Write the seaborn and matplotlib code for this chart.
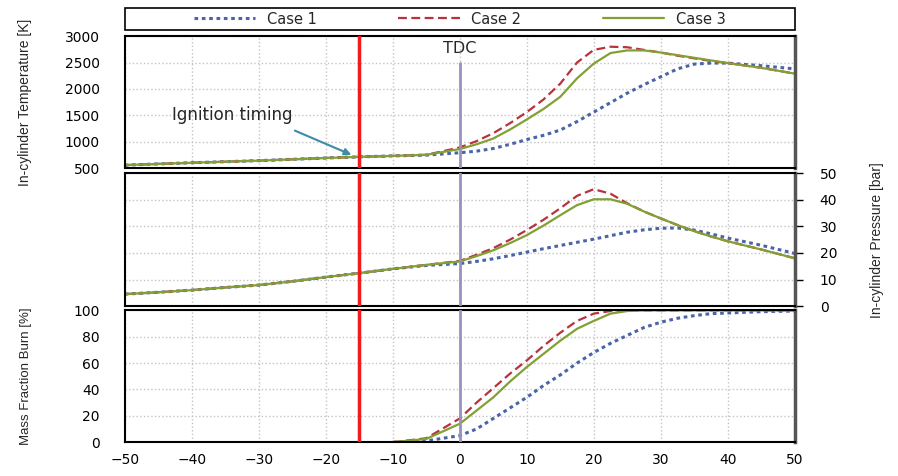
import numpy as np
import pandas as pd
import matplotlib
matplotlib.use("Agg")
import matplotlib.pyplot as plt
import seaborn as sns

# crank angle [deg]
crank = [-50, -45, -40, -35, -30, -25, -20, -15, -10, -5, 0, 2.5, 5, 7.5, 10, 12.5,
         15, 17.5, 20, 22.5, 25, 27.5, 30, 32.5, 35, 37.5, 40, 45, 50]
cases = ["Case 1", "Case 2", "Case 3"]

# in-cylinder temperature [K]
temp_case1 = [555, 578, 600, 620, 640, 665, 690, 712, 730, 745, 790, 820, 870, 950, 1040, 1120,
              1220, 1380, 1560, 1740, 1920, 2080, 2230, 2380, 2470, 2490, 2490, 2440, 2380]
temp_case2 = [555, 578, 600, 620, 640, 665, 690, 712, 730, 750, 890, 1010, 1160, 1350, 1560, 1800,
              2100, 2500, 2740, 2800, 2790, 2740, 2690, 2630, 2580, 2530, 2490, 2400, 2290]
temp_case3 = [555, 578, 600, 620, 640, 665, 690, 712, 730, 750, 860, 950, 1060, 1230, 1420, 1620,
              1850, 2200, 2480, 2680, 2730, 2730, 2690, 2640, 2590, 2540, 2490, 2400, 2290]

# in-cylinder pressure [bar]
pres_case1 = [4.5, 5.2, 6.0, 7.0, 7.9, 9.3, 10.9, 12.4, 14.0, 15.3, 16.0, 16.8, 17.8, 19.0, 20.3, 21.6,
              22.8, 24.0, 25.2, 26.5, 27.8, 28.7, 29.3, 29.4, 28.6, 27.2, 25.6, 22.9, 19.8]
pres_case2 = [4.5, 5.2, 6.0, 7.0, 7.9, 9.3, 10.9, 12.4, 14.0, 15.5, 17.0, 19.3, 21.8, 25.0, 28.6, 32.5,
              36.8, 41.5, 44.0, 42.3, 38.7, 35.6, 33.0, 30.5, 28.2, 26.2, 24.4, 21.3, 18.0]
pres_case3 = [4.5, 5.2, 6.0, 7.0, 7.9, 9.3, 10.9, 12.4, 14.0, 15.5, 16.8, 18.8, 21.0, 23.7, 26.7, 30.3,
              34.2, 38.0, 40.2, 40.2, 38.5, 35.6, 33.0, 30.5, 28.2, 26.2, 24.4, 21.3, 18.0]

# mass fraction burn [%]
mfb_case1 = [np.nan] * 8 + [0, 1, 5, 10, 18, 26, 34, 43,
                            51, 60, 68, 75, 81, 87, 91, 94, 96, 97.5, 98, 99, 99.5]
mfb_case2 = [np.nan] * 8 + [0, 3, 18, 30, 41, 52, 62, 73,
                            83, 92, 97.5, 99.5, 100, 100, 100, 100, 100, 100, 100, 100, 100]
mfb_case3 = [np.nan] * 8 + [0, 2.5, 14, 24, 34, 46, 57, 67,
                            77, 86, 92, 97.5, 99.5, 100, 100, 100, 100, 100, 100, 100, 100]

ignition = -15
tdc = 0

df = pd.DataFrame({
    "crank": crank * 3,
    "case": np.repeat(cases, len(crank)),
    "temp": temp_case1 + temp_case2 + temp_case3,
    "pres": pres_case1 + pres_case2 + pres_case3,
    "mfb": mfb_case1 + mfb_case2 + mfb_case3,
})

sns.set_style("white")
plt.rcParams["font.family"] = ["DejaVu Sans"]
narrow = ["Liberation Sans Narrow", "Liberation Sans", "DejaVu Sans"]

styles = {
    "Case 1": dict(color="#4a64a8", linestyle=(0, (1.2, 1.2)), linewidth=2.2),
    "Case 2": dict(color="#b8323c", linestyle=(0, (4, 2)), linewidth=1.6),
    "Case 3": dict(color="#82a034", linestyle="-", linewidth=1.6),
}

fig = plt.figure(figsize=(8.98, 4.76), dpi=100)
L, W = 0.139, 0.746
ax_t = fig.add_axes([L, 0.647, W, 0.277])
ax_p = fig.add_axes([L, 0.357, W, 0.279])
ax_m = fig.add_axes([L, 0.071, W, 0.277])

for ax, col in [(ax_t, "temp"), (ax_p, "pres"), (ax_m, "mfb")]:
    for c in cases:
        sub = df[df["case"] == c]
        sns.lineplot(data=sub, x="crank", y=col, ax=ax, label=c, **styles[c])
    ax.set_xlim(-50, 50)
    ax.set_xticks(range(-50, 51, 10))
    ax.grid(True, color="#c4c4c4", linestyle=":", linewidth=1.0)
    ax.set_axisbelow(True)
    ax.get_legend().remove()
    ax.set_xlabel("")
    ax.set_ylabel("")
    for s in ax.spines.values():
        s.set_color("black")
        s.set_linewidth(1.5)
    ax.spines["right"].set_color("#555555")
    ax.spines["right"].set_linewidth(2.5)
    ax.tick_params(direction="out", length=4, width=1, labelsize=10, colors="black")
    ax.tick_params(axis="y", length=6, pad=12)
    ax.axvline(ignition, color="#ee1c1c", linewidth=2.5, zorder=5)

# top panel
ax_t.set_ylim(500, 3000)
ax_t.set_yticks(range(500, 3001, 500))
ax_t.tick_params(axis="x", length=0, labelbottom=False)
ax_t.plot([tdc, tdc], [500, 2500], color="#9a90c0", linewidth=2, zorder=4)
ax_t.text(tdc, 2770, "TDC", ha="center", va="center", fontsize=11.5)
ax_t.text(-43, 1500, "Ignition timing", ha="left", va="center", fontsize=12)
ax_t.annotate("", xy=(-15.8, 730), xytext=(-25, 1230),
              arrowprops=dict(arrowstyle="-|>", color="#3b8ea5", lw=1.5, mutation_scale=10))
ax_t.set_ylabel("In-cylinder Temperature [K]", fontsize=10, family=narrow)
ax_t.yaxis.set_label_coords(-0.138, 0.5)

# middle panel
ax_p.set_ylim(0, 50)
ax_p.set_yticks(range(0, 51, 10))
ax_p.yaxis.tick_right()
ax_p.yaxis.set_label_position("right")
ax_p.tick_params(axis="x", length=0, labelbottom=False)
ax_p.axvline(tdc, color="#9a90c0", linewidth=2, zorder=4)
ax_p.set_ylabel("In-cylinder Pressure [bar]", fontsize=10, family=narrow)
ax_p.yaxis.set_label_coords(1.113, 0.5)

# bottom panel
ax_m.set_ylim(0, 100)
ax_m.set_yticks(range(0, 101, 20))
ax_m.axvline(tdc, color="#9a90c0", linewidth=2, zorder=4)
ax_m.set_ylabel("Mass Fraction Burn [%]", fontsize=9.5, family=narrow)
ax_m.yaxis.set_label_coords(-0.138, 0.5)

handles, labels = ax_t.get_legend_handles_labels()
leg = fig.legend(handles, labels, ncol=3, loc="center",
                 bbox_to_anchor=(L + W / 2, 0.96), frameon=False,
                 fontsize=10.5, handlelength=4.2, handletextpad=0.8,
                 columnspacing=5.6, borderaxespad=0)
# frame box across the plot width
fig.patches.append(plt.Rectangle((L, 0.937), W, 0.046, transform=fig.transFigure,
                                 fill=False, edgecolor="black", linewidth=1.2))

fig.savefig("out.png", dpi=100)
